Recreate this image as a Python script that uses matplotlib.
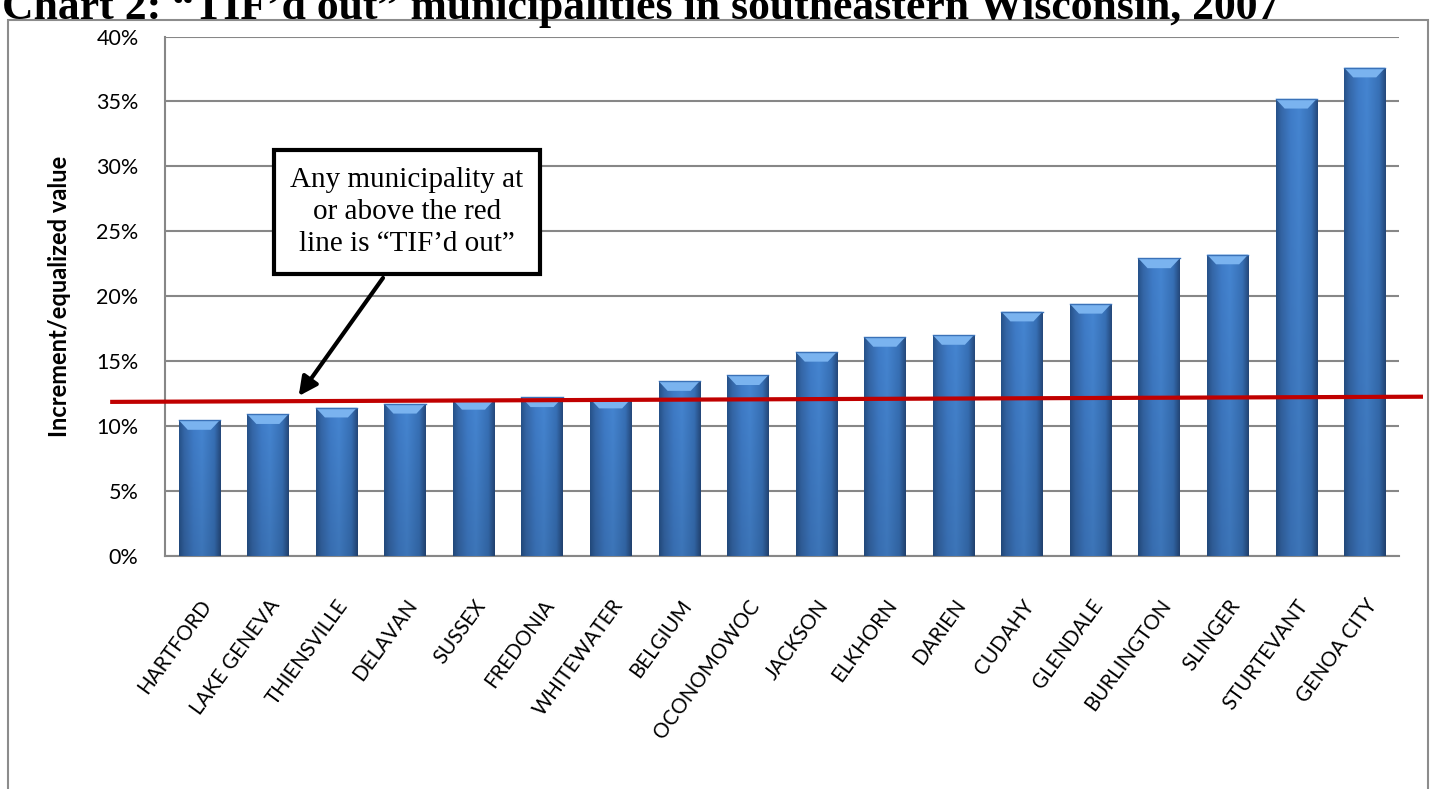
import numpy as np
import matplotlib
matplotlib.use("Agg")
import matplotlib.pyplot as plt
from matplotlib.colors import LinearSegmentedColormap
from matplotlib.patches import Polygon, Rectangle

# data (percent of equalized value)
municipalities = ["HARTFORD", "LAKE GENEVA", "THIENSVILLE", "DELAVAN", "SUSSEX",
                  "FREDONIA", "WHITEWATER", "BELGIUM", "OCONOMOWOC", "JACKSON",
                  "ELKHORN", "DARIEN", "CUDAHY", "GLENDALE", "BURLINGTON",
                  "SLINGER", "STURTEVANT", "GENOA CITY"]
increment_pct = [10.45, 10.9, 11.4, 11.7, 12.0, 12.2, 12.1, 13.45, 13.9, 15.7,
                 16.85, 17.0, 18.8, 19.4, 22.9, 23.2, 35.2, 37.6]
y_ticks = [0, 5, 10, 15, 20, 25, 30, 35, 40]

# hand-drawn red "TIF'd out" line (slightly tilted in the original)
red_line_x = [-1.3, 17.85]
red_line_y = [11.85, 12.25]

title = "Chart 2: \u201cTIF\u2019d out\u201d municipalities in southeastern Wisconsin, 2007"
note = "Any municipality at\nor above the red\nline is \u201cTIF\u2019d out\u201d"

W, H = 1432, 789
fig = plt.figure(figsize=(W / 100, H / 100), dpi=100)
ax = fig.add_axes([165 / W, 1 - 555.7 / H, (1399 - 165) / W, (555.7 - 36.5) / H])

sans = ["Lato", "DejaVu Sans"]
grid_col = "#878787"

x = np.arange(len(municipalities))
bars = ax.bar(x, increment_pct, width=0.6, color="#3D79C4", zorder=3)

# Excel-2007 style shading: darker edges, lighter middle, bevelled top
shade = LinearSegmentedColormap.from_list("shade", [
    (0.0, "#26528A"), (0.12, "#3567A8"), (0.35, "#3F7CC8"),
    (0.55, "#4585D1"), (0.85, "#3770B6"), (1.0, "#25497C")])
prof = shade(np.linspace(0, 1, 64))[None, :, :3]
vert = np.linspace(1.0, 0.88, 64)[:, None, None]
img = np.clip(prof * vert, 0, 1)
bevel = 0.75  # height of the top bevel, in percent units
for b in bars:
    x0, w, h = b.get_x(), b.get_width(), b.get_height()
    im = ax.imshow(img, extent=[x0, x0 + w, 0, h], aspect="auto",
                   interpolation="bilinear", zorder=3.1)
    im.set_clip_path(b)
    ax.add_patch(Polygon([(x0, h), (x0 + w, h), (x0 + w * 0.78, h - bevel),
                          (x0 + w * 0.22, h - bevel)], closed=True,
                         facecolor="#7AB3EF", edgecolor="none", zorder=3.2))
    ax.plot([x0, x0 + w], [h, h], color="#3B72B8", lw=1, zorder=3.3)

ax.set_xlim(-0.5, len(municipalities) - 0.5)
ax.set_ylim(0, 40)
ax.set_yticks(y_ticks)
ax.set_yticklabels([f"{v}%" for v in y_ticks], family=sans, fontsize=15.5)
ax.tick_params(axis="y", length=0, pad=19)
ax.set_xticks(x)
ax.set_xticklabels(municipalities, rotation=54, ha="right", rotation_mode="anchor",
                   family=sans, fontsize=14.8)
ax.tick_params(axis="x", length=0, pad=29)
ax.yaxis.grid(True, color=grid_col, lw=1.5, zorder=1)
ax.set_axisbelow(True)
for side in ["top", "right"]:
    ax.spines[side].set_visible(False)
for side in ["left", "bottom"]:
    ax.spines[side].set_color(grid_col)
    ax.spines[side].set_linewidth(1.5)
ax.set_ylabel("Increment/equalized value", family=sans, fontsize=17,
              fontweight="bold", labelpad=18)

# red threshold line, running past the axis on both ends
ax.plot(red_line_x, red_line_y, color="#C00000", lw=3, zorder=4, clip_on=False,
        solid_capstyle="butt")

# callout box + arrow
ax.text(3.03, 26.5, note, ha="center", va="center", family="Liberation Serif",
        fontsize=21, linespacing=1.3, zorder=6,
        bbox=dict(boxstyle="square,pad=0.58", facecolor="white",
                  edgecolor="black", linewidth=3))
ax.annotate("", xy=(1.45, 12.3), xytext=(2.68, 21.4), zorder=5,
            arrowprops=dict(arrowstyle="-|>", lw=3, color="black",
                            mutation_scale=28, shrinkA=0, shrinkB=0))

# outer chart frame and the clipped page title above it
fig.add_artist(Rectangle((8 / W, -0.1), (1428 - 8) / W, 1.1 - 20 / H,
                         transform=fig.transFigure, fill=False,
                         edgecolor="#8C8C8C", lw=1.5))
fig.text(2 / W, 1 - 19 / H, title, ha="left", va="baseline",
         family="Liberation Serif", fontweight="bold", fontsize=31.5)

fig.savefig("out.png", dpi=100)
